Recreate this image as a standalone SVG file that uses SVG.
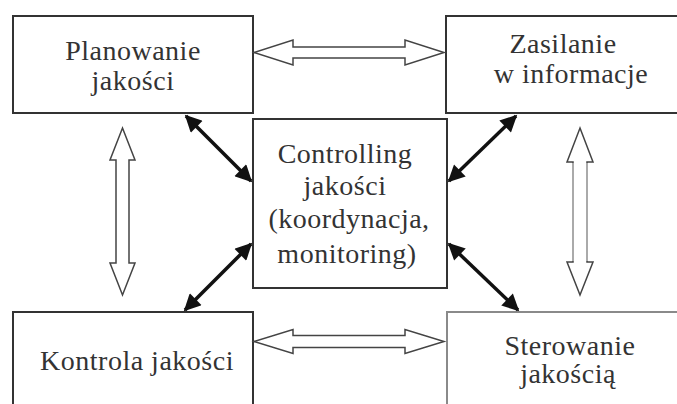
<svg xmlns="http://www.w3.org/2000/svg" width="677" height="404" viewBox="0 0 677 404">
<style>
.box{fill:#fff;stroke:#333;stroke-width:2}
.box2{fill:#fff;stroke:#8a8a8a;stroke-width:2}
.t{font-family:'Liberation Serif','Times New Roman',serif;font-size:28px;letter-spacing:0.5px;fill:#333;text-anchor:middle}
.hollow{fill:#fff;stroke:#444;stroke-width:1.5;stroke-linejoin:miter}
.blk{stroke:#111;stroke-width:3.5;fill:none;marker-start:url(#ah);marker-end:url(#ah)}
</style>
<defs>
<marker id="ah" viewBox="0 0 10 10" refX="9" refY="5" markerWidth="5.5" markerHeight="4.8" markerUnits="strokeWidth" orient="auto-start-reverse">
<path d="M0,0 L10,5 L0,10 z" fill="#111"/>
</marker>
</defs>
<rect width="677" height="404" fill="#fff"/>
<g id="planowanie">
<rect class="box" x="13" y="16" width="240" height="97"/>
<text class="t" x="133" y="60">Planowanie</text>
<text class="t" x="133" y="90">jakości</text>
</g>
<g id="zasilanie">
<rect class="box" x="446" y="16" width="240" height="97"/>
<text class="t" x="563" y="53">Zasilanie</text>
<text class="t" x="571" y="83">w informacje</text>
</g>
<g id="controlling">
<rect class="box" x="253" y="119" width="194" height="169"/>
<text class="t" x="345" y="163">Controlling</text>
<text class="t" x="345" y="195">jakości</text>
<text class="t" x="349" y="228">(koordynacja,</text>
<text class="t" x="347" y="263">monitoring)</text>
</g>
<g id="kontrola">
<rect class="box" x="13" y="312" width="240" height="100"/>
<text class="t" x="137" y="370">Kontrola jakości</text>
</g>
<g id="sterowanie">
<rect class="box2" x="447" y="312" width="240" height="100"/>
<text class="t" x="570" y="355">Sterowanie</text>
<text class="t" x="568" y="383">jakością</text>
</g>
<g id="connectors">
<polygon class="hollow" points="254,52.5 293,40 293,47 405,47 405,40 444,52.5 405,65 405,58 293,58 293,65"/>
<polygon class="hollow" points="254,341.5 293,329.5 293,335.5 405,335.5 405,329.5 444,341.5 405,353.5 405,347.5 293,347.5 293,353.5"/>
<polygon class="hollow" points="122.5,128 135,160 129,160 129,263 135,263 122.5,295 110,263 116,263 116,160 110,160"/>
<polygon class="hollow" points="580,128 593,162 587,162 587,262 593,262 580,295 567,262 573,262 573,162 567,162"/>
<line x1="573" y1="163" x2="573" y2="261" stroke="#aaa" stroke-width="2"/>
<line x1="587" y1="163" x2="587" y2="261" stroke="#aaa" stroke-width="2"/>
<line class="blk" x1="186" y1="116" x2="251" y2="181"/>
<line class="blk" x1="516" y1="116" x2="449" y2="181"/>
<line class="blk" x1="185" y1="310" x2="251" y2="244"/>
<line class="blk" x1="518" y1="310" x2="449" y2="244"/>
</g>
</svg>
